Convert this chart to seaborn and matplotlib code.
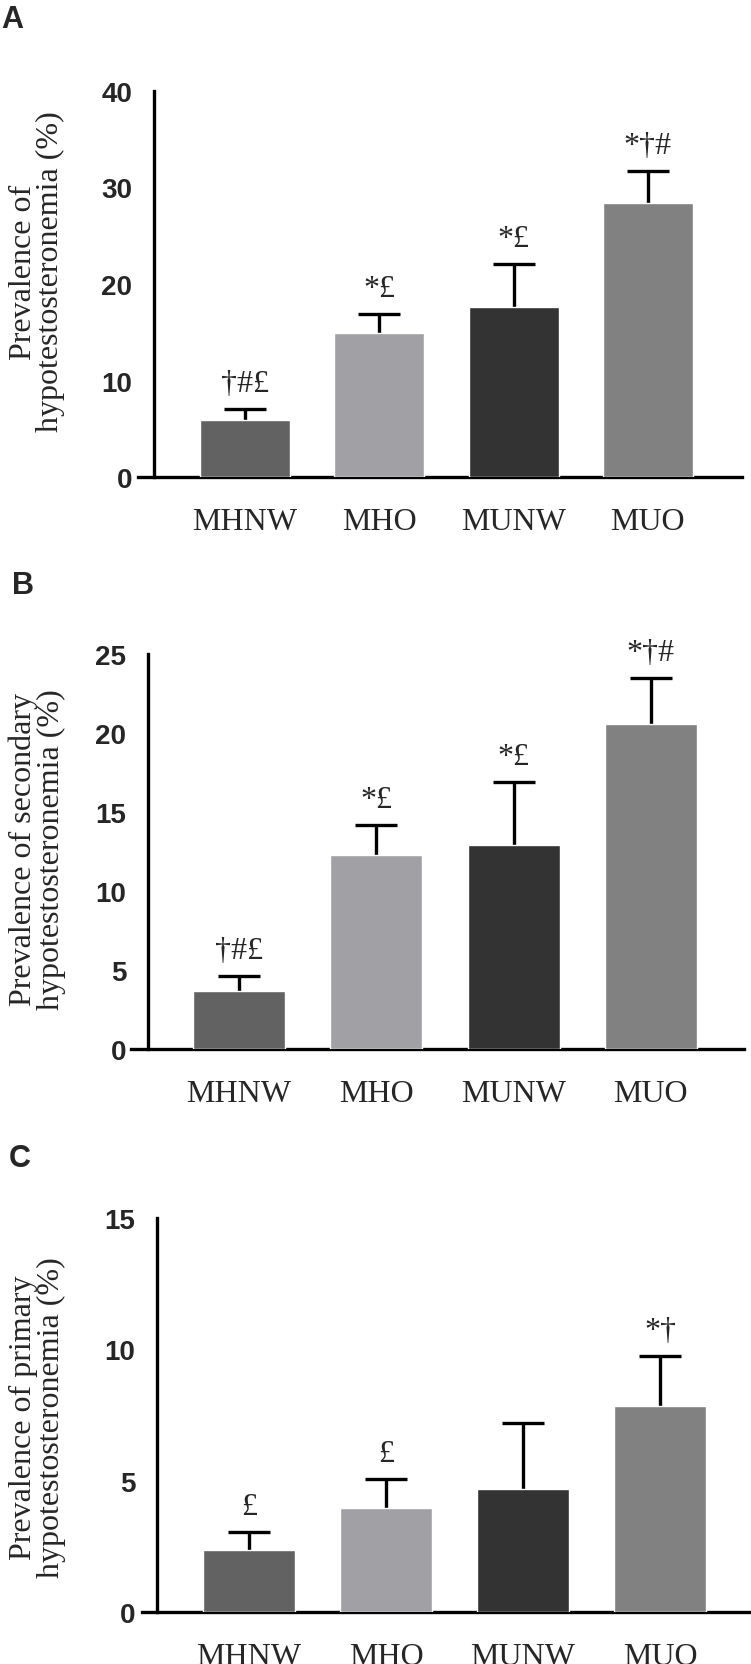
import numpy as np
import matplotlib
matplotlib.use("Agg")
import matplotlib.pyplot as plt
import seaborn as sns

# data
groups = ["MHNW", "MHO", "MUNW", "MUO"]
bar_colors = ["#626262", "#a1a1a5", "#333333", "#818181"]

# A: hypotestosteronemia
prev_all = [5.9, 14.9, 17.6, 28.4]
err_all = [1.1, 2.0, 4.5, 3.3]
sig_all = ["\u2020#\u00a3", "*\u00a3", "*\u00a3", "*\u2020#"]

# B: secondary
prev_sec = [3.7, 12.3, 12.9, 20.6]
err_sec = [0.9, 1.9, 4.0, 2.9]
sig_sec = ["\u2020#\u00a3", "*\u00a3", "*\u00a3", "*\u2020#"]

# C: primary
prev_pri = [2.35, 3.95, 4.7, 7.85]
err_pri = [0.7, 1.1, 2.5, 1.9]
sig_pri = ["\u00a3", "\u00a3", "", "*\u2020"]

W, H = 751, 1665
sns.set_style("white")
plt.rcParams["font.family"] = ["Liberation Serif", "DejaVu Serif"]

fig = plt.figure(figsize=(W / 100, H / 100), dpi=100)

serif = "Liberation Serif"
sans = "Liberation Sans"
lw = 2.4

panels = [
    # letter, letter pos, values, errs, sigs, yticks, ylabel,
    # px: x-axis left, x-axis right, y-axis x, first tick x, tick spacing, y bottom, y top, ylabel y
    ("A", (1, 28), prev_all, err_all, sig_all, [0, 10, 20, 30, 40],
     "Prevalence of\nhypotestosteronemia (%)", 138, 742, 154, 245, 134.3, 478, 92, 272),
    ("B", (12, 594), prev_sec, err_sec, sig_sec, [0, 5, 10, 15, 20, 25],
     "Prevalence of secondary\nhypotestosteronemia (%)", 131, 744, 148, 239, 137.3, 1050, 655, 850),
    ("C", (9, 1167), prev_pri, err_pri, sig_pri, [0, 5, 10, 15],
     "Prevalence of primary\nhypotestosteronemia (%)", 142, 751, 157, 249, 137.0, 1613, 1219, 1418),
]

for (letter, lpos, vals, errs, sigs, yticks, ylab,
     xl, xr, yax, t0, dt, yb, yt, ylab_y) in panels:
    ax = fig.add_axes([xl / W, 1 - yb / H, (xr - xl) / W, (yb - yt) / H])
    sns.barplot(x=groups, y=vals, hue=groups, palette=bar_colors, legend=False,
                width=0.67, saturation=1, ax=ax, zorder=3)
    eb = ax.errorbar(range(len(groups)), vals, yerr=[[0] * len(errs), errs], fmt="none",
                     ecolor="black", elinewidth=lw, capsize=15, capthick=lw, zorder=2)
    eb[1][0].set_visible(False)  # no lower cap
    for i, s in enumerate(sigs):
        if s:
            ax.annotate(s, (i, vals[i] + errs[i]), xytext=(0, 13), textcoords="offset points",
                        ha="center", va="baseline", fontsize=23, family=serif)

    sns.despine(ax=ax)
    ax.spines["left"].set_position(("data", (yax - t0) / dt))
    for sp in ["left", "bottom"]:
        ax.spines[sp].set_linewidth(lw)
        ax.spines[sp].set_color("black")

    ax.set_xlim((xl - t0) / dt, (xr - t0) / dt)
    ax.set_ylim(0, yticks[-1])
    ax.set_yticks(yticks)
    ax.set_yticklabels([str(v) for v in yticks], fontsize=20, fontweight="bold", family=sans)
    ax.set_xticks(range(len(groups)))
    ax.set_xticklabels(groups, fontsize=23, family=serif)
    ax.set_xlabel("")
    ax.set_ylabel("")
    ax.tick_params(axis="both", direction="out", length=11.5, width=lw, color="black")
    ax.tick_params(axis="y", pad=4)
    ax.tick_params(axis="x", pad=10)

    fig.text(37 / W, 1 - ylab_y / H, ylab, rotation=90, ha="center", va="center",
             multialignment="center", fontsize=23, family=serif, linespacing=0.95)
    fig.text(lpos[0] / W, 1 - lpos[1] / H, letter, fontsize=22, fontweight="bold",
             family=sans, va="baseline", ha="left")

fig.savefig("out.png", dpi=100)
